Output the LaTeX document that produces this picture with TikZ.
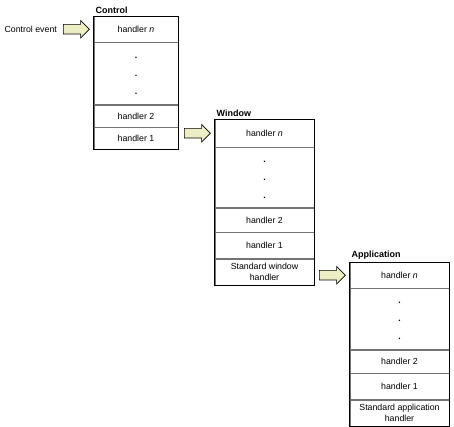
\documentclass[tikz,border=0pt]{standalone}
\usepackage{fontspec}
\setmainfont{Liberation Sans}
\usetikzlibrary{shapes.arrows, positioning, fit}
\definecolor{arrowfill}{RGB}{238,238,196}
\definecolor{rulegray}{RGB}{115,115,115}

\begin{document}
\begin{tikzpicture}[
    x=1pt, y=-1pt,
    font=\fontsize{8.8}{10.5}\selectfont,
    handlerbox/.style={rectangle, draw=rulegray, text centered, align=center, inner sep=1pt},
    ctlrow/.style={handlerbox, minimum width=84pt, minimum height=#1},
    widerow/.style={handlerbox, minimum width=99pt, minimum height=#1},
    dotrow/.style={align=center, font=\fontsize{8.8}{18}\selectfont\bfseries, yshift=-2pt},
    outline/.style={rectangle, draw=black, line width=0.8pt, inner sep=0pt},
    title/.style={font=\fontsize{9}{10}\selectfont\bfseries, inner sep=1pt, anchor=south west},
    passarrow/.style={single arrow, draw=black, fill=arrowfill, line width=0.6pt, inner xsep=0pt, inner ysep=4.5pt, single arrow head extend=4pt, minimum height=26pt}
]
\useasboundingbox (0,0) rectangle (454,426);

% Control
\node[ctlrow=26pt, anchor=north] (cn) at (136,16) {handler \textit{n}};
\node[ctlrow=62pt, below=0pt of cn] (cd) {};
\node[dotrow] at (cd) {.\\.\\.};
\node[ctlrow=22pt, below=0pt of cd] (c2) {handler 2};
\node[ctlrow=22pt, below=0pt of c2] (c1) {handler 1};
\node[outline, fit=(cn)(c1)] (ctl) {};
\node[title] at ([xshift=1pt, yshift=1pt]ctl.north west) {Control};

% Window
\node[widerow=28pt, anchor=north] (wn) at (264.5,119) {handler \textit{n}};
\node[widerow=60pt, below=0pt of wn] (wd) {};
\node[dotrow] at (wd) {.\\.\\.};
\node[widerow=24pt, below=0pt of wd] (w2) {handler 2};
\node[widerow=26pt, below=0pt of w2] (w1) {handler 1};
\node[widerow=26pt, below=0pt of w1] (ws) {Standard window\\handler};
\node[outline, fit=(wn)(ws)] (win) {};
\node[title] at ([xshift=1pt, yshift=1pt]win.north west) {Window};

% Application
\node[widerow=26pt, anchor=north] (an) at (399.5,262) {handler \textit{n}};
\node[widerow=61pt, below=0pt of an] (ad) {};
\node[dotrow] at (ad) {.\\.\\.};
\node[widerow=23pt, below=0pt of ad] (a2) {handler 2};
\node[widerow=26pt, below=0pt of a2] (a1) {handler 1};
\node[widerow=26.5pt, below=0pt of a1] (as) {Standard application\\handler};
\node[outline, fit=(an)(as)] (app) {};
\node[title] at ([xshift=1pt, yshift=1pt]app.north west) {Application};

% passing the event on
\node[passarrow, left=4pt of cn] (in) {};
\node[left=5pt of in, inner sep=1pt] (ev) {Control event};
\node[passarrow, left=4pt of wn] (toWin) {};
\node[passarrow, left=4pt of an] (toApp) {};

\end{tikzpicture}
\end{document}
